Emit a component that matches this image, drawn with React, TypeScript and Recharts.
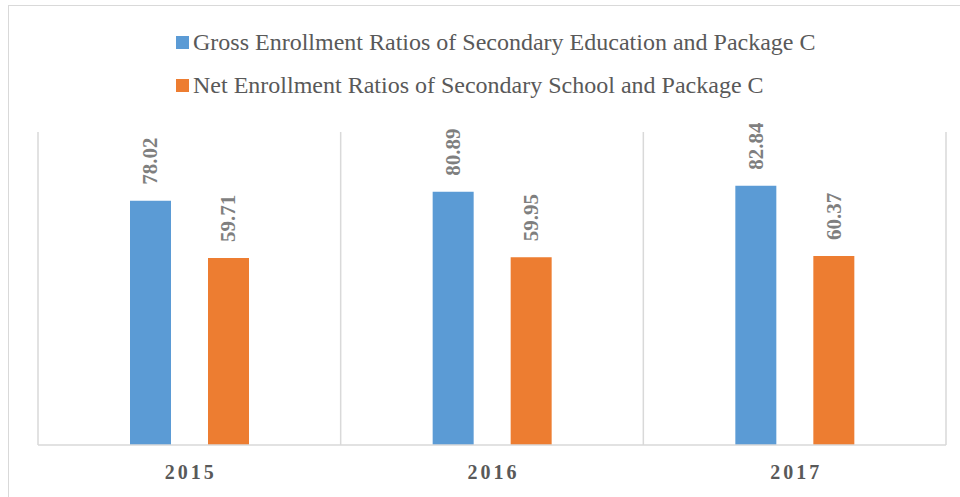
import React from "react";
import { BarChart, Bar, XAxis, YAxis, CartesianGrid, LabelList } from "recharts";

const years = ["2015", "2016", "2017"];
const grossRatios = [78.02, 80.89, 82.84];
const netRatios = [59.71, 59.95, 60.37];
const seriesNames = [
  "Gross Enrollment Ratios of Secondary Education and Package C",
  "Net Enrollment Ratios of Secondary School and Package C",
];
const seriesColors = ["#5b9bd5", "#ed7d31"];

const data = years.map((y, i) => ({ year: y, gross: grossRatios[i], net: netRatios[i] }));

const FONT = "'Liberation Serif', 'Times New Roman', serif";

const ValueLabel = (props: any) => {
  const { x, y, width, value } = props;
  const cx = x + width / 2;
  const ty = y - 16;
  return (
    <text
      x={cx}
      y={ty}
      transform={`rotate(-90, ${cx}, ${ty})`}
      textAnchor="start"
      dominantBaseline="central"
      fill="#7f7f7f"
      fontFamily={FONT}
      fontWeight="bold"
      fontSize={21}
    >
      {Number(value).toFixed(2)}
    </text>
  );
};

const YearTick = (props: any) => {
  const { x, y, payload } = props;
  return (
    <text
      x={x + 1.5}
      y={y}
      dy={26}
      textAnchor="middle"
      fill="#595959"
      fontFamily={FONT}
      fontWeight="bold"
      fontSize={20}
      letterSpacing={3}
    >
      {payload.value}
    </text>
  );
};

const ChartLegend = () => (
  <div
    style={{
      position: "absolute",
      left: 176,
      top: 21,
      fontFamily: FONT,
      fontSize: 24,
      color: "#595959",
    }}
  >
    {seriesNames.map((n, i) => (
      <div key={n} style={{ display: "flex", alignItems: "center", height: 43, whiteSpace: "nowrap" }}>
        <span style={{ display: "inline-block", width: 13, height: 13, background: seriesColors[i], marginRight: 4, flexShrink: 0 }} />
        <span>{n}</span>
      </div>
    ))}
  </div>
);

export default function App() {
  return (
    <div style={{ position: "relative", width: 960, height: 497, overflow: "hidden", background: "#fff" }}>
      <style>{`body{margin:0}`}</style>
      <div
        style={{
          position: "absolute",
          left: 8,
          top: 5,
          width: 980,
          height: 520,
          border: "1.5px solid #d9d9d9",
          boxSizing: "border-box",
        }}
      />
      <div style={{ position: "absolute", left: 0, top: 0 }}>
        <BarChart
          width={960}
          height={497}
          data={data}
          margin={{ top: 132, right: 14, bottom: 22, left: 38 }}
          barSize={41}
          barGap={37}
        >
          <CartesianGrid
            horizontal={false}
            stroke="#d9d9d9"
            strokeWidth={1.5}
            verticalCoordinatesGenerator={({ offset }: any) =>
              years.map((_, i) => offset.left + (offset.width * i) / years.length).concat([offset.left + offset.width])
            }
          />
          <XAxis
            dataKey="year"
            axisLine={{ stroke: "#d9d9d9", strokeWidth: 1.5 }}
            tickLine={false}
            tick={<YearTick />}
            height={30}
            interval={0}
          />
          <YAxis hide domain={[0, 100]} />
          <Bar dataKey="gross" fill={seriesColors[0]} isAnimationActive={false}>
            <LabelList dataKey="gross" content={<ValueLabel />} />
          </Bar>
          <Bar dataKey="net" fill={seriesColors[1]} isAnimationActive={false}>
            <LabelList dataKey="net" content={<ValueLabel />} />
          </Bar>
        </BarChart>
      </div>
      <ChartLegend />
    </div>
  );
}
